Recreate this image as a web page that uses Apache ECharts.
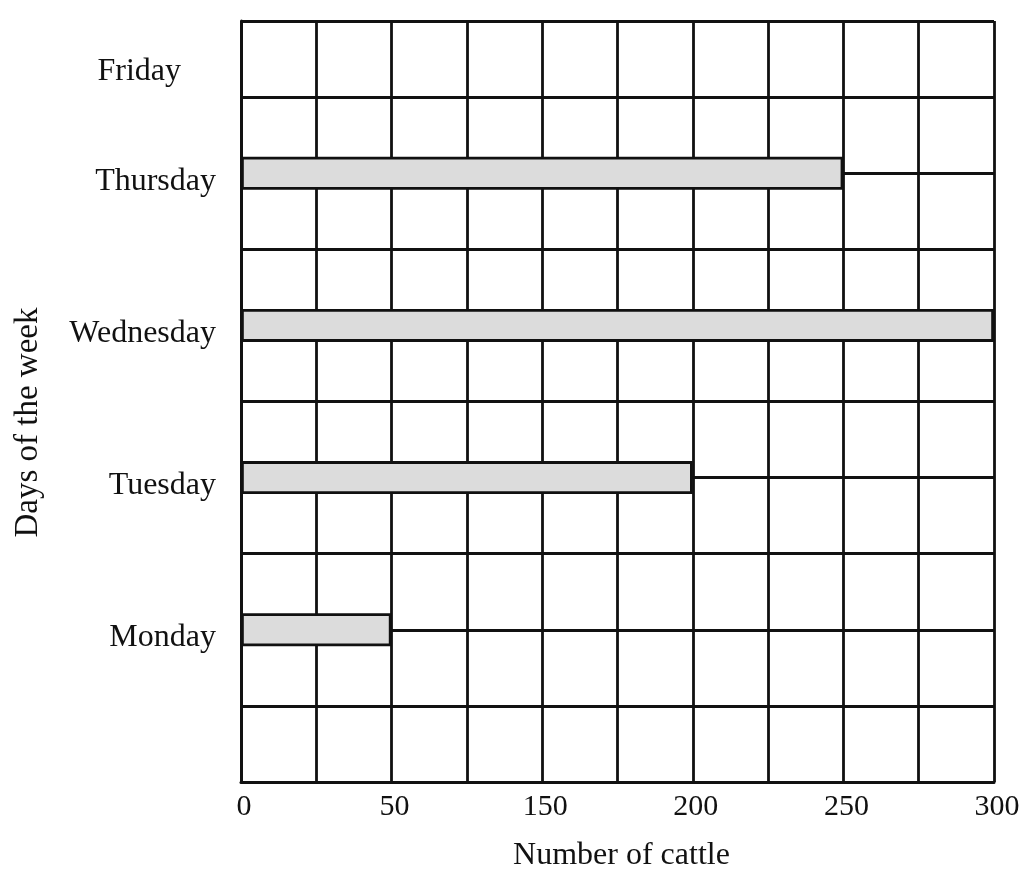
<!DOCTYPE html>
<html><head><meta charset="utf-8">
<script src="https://cdn.jsdelivr.net/npm/echarts@6/dist/echarts.min.js"></script>
<style>html,body{margin:0;padding:0;background:#fff}#c{width:1030px;height:879px}</style>
</head><body><div id="c"></div>
<script>
// ---- data ----
const days = ['Monday', 'Tuesday', 'Wednesday', 'Thursday', 'Friday'];
const cattle = [50, 200, 300, 250, 0];
const xTickLabels = ['0', '50', '150', '200', '250', '300'];
const xAxisTitle = 'Number of cattle';
const yAxisTitle = 'Days of the week';

// ---- layout (sub-slots on the vertical axis: 3 per grid row) ----
const SUB = 3, ROWS = 10;
const daySlot = [6, 12, 18, 24, 28];
const nSlots = SUB * ROWS + 1;
const FONT = '"Liberation Serif", "DejaVu Serif", serif';

// position on the printed axis: ticks every 2 columns carry the printed labels
const tickVals = xTickLabels.map(Number);
function toPos(v) {
  for (let i = 0; i < tickVals.length - 1; i++) {
    if (v >= tickVals[i] && v <= tickVals[i + 1]) {
      return 2 * i + 2 * (v - tickVals[i]) / (tickVals[i + 1] - tickVals[i]);
    }
  }
  return 2 * (tickVals.length - 1);
}

const slotCats = [];
const slotDay = [];
const barData = [];
for (let s = 0; s < nSlots; s++) { slotCats.push('s' + s); slotDay.push(null); barData.push('-'); }
days.forEach((d, i) => {
  slotDay[daySlot[i]] = d;
  barData[daySlot[i]] = cattle[i] > 0 ? toPos(cattle[i]) : '-';
});

const chart = echarts.init(document.getElementById('c'), null, { renderer: 'canvas' });
chart.setOption({
  backgroundColor: '#ffffff',
  animation: false,
  grid: { left: 241, right: 36, top: 21, bottom: 97, containLabel: false },
  xAxis: {
    type: 'value', min: 0, max: 10, interval: 1,
    name: xAxisTitle, nameLocation: 'middle', nameGap: 58,
    nameTextStyle: { fontFamily: FONT, fontSize: 32, color: '#111', padding: [0, 0, 0, 8] },
    axisLine: { show: true, lineStyle: { color: '#111', width: 3 } },
    axisTick: { show: false },
    splitLine: { show: true, lineStyle: { color: '#111', width: 2.8 } },
    axisLabel: {
      margin: 10, fontFamily: FONT, fontSize: 30, color: '#111', hideOverlap: false,
      padding: [0, 0, 0, 6],
      formatter: v => (v % 2 === 0 ? xTickLabels[v / 2] : '')
    }
  },
  yAxis: {
    type: 'category', data: slotCats, boundaryGap: false,
    name: yAxisTitle, nameLocation: 'middle', nameGap: 196, nameRotate: 90,
    nameTextStyle: { fontFamily: FONT, fontSize: 33, color: '#111', padding: [0, 42, 0, 0] },
    axisLine: { show: true, lineStyle: { color: '#111', width: 3 } },
    axisTick: { show: false },
    splitLine: { show: true, interval: SUB - 1, lineStyle: { color: '#111', width: 2.8 } },
    axisLabel: {
      interval: 0, margin: 25, fontFamily: FONT, fontSize: 32, color: '#111',
      formatter: (val, idx) => {
        const d = slotDay[idx];
        if (!d) return '';
        return d === 'Friday' ? '{fri|' + d + '}' : '{d|' + d + '}';
      },
      rich: {
        d: { fontFamily: FONT, fontSize: 32, color: '#111', padding: [16, 0, 0, 0] },
        fri: { fontFamily: FONT, fontSize: 32, color: '#111', padding: [0, 35, 0, 0] }
      }
    }
  },
  series: [{
    type: 'bar', data: barData, barWidth: 33,
    itemStyle: { color: '#dcdcdc', borderColor: '#111', borderWidth: 2.8 },
    z: 5
  }]
});
</script>
</body></html>
